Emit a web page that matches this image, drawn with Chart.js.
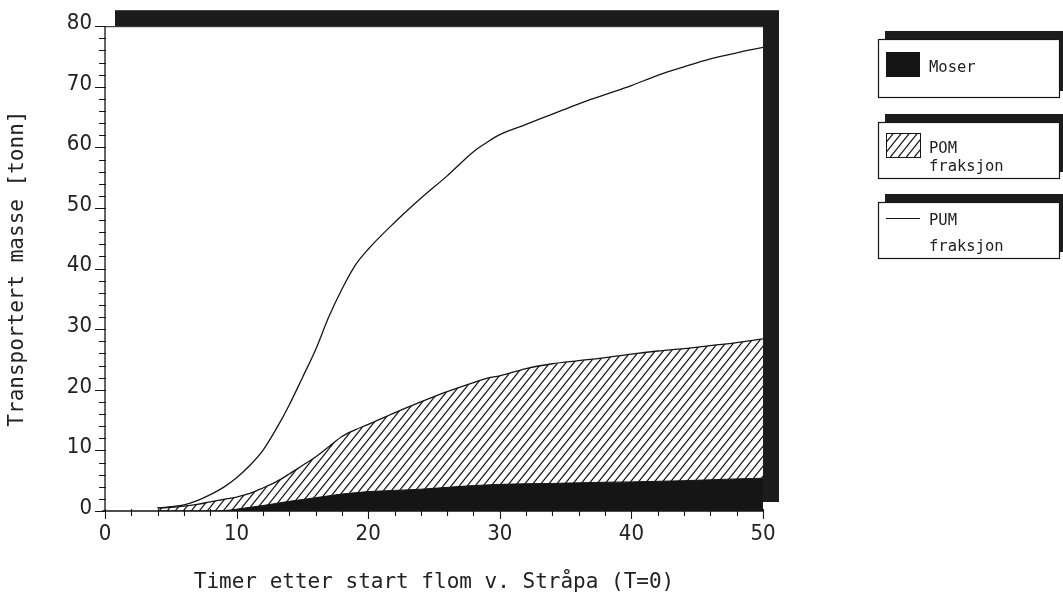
<!DOCTYPE html>
<html><head><meta charset="utf-8">
<script src="https://cdn.jsdelivr.net/npm/chart.js@4.4.1/dist/chart.umd.min.js"></script>
<style>html,body{margin:0;padding:0;background:#fff;}#wrap{width:1063px;height:595px;}</style>
</head><body><div id="wrap"><canvas id="c" width="1063" height="595"></canvas></div>
<script>
// ---- data ----
const hours = [4,5,6,7,8,9,10,11,12,13,14,15,16,17,18,19,20,22,24,26,28,29,30,32,34,36,38,40,42,44,46,48,50];
const moser = [0,0,0,0,0,0.05,0.3,0.6,0.9,1.25,1.6,1.9,2.2,2.5,2.8,3.0,3.2,3.4,3.6,3.9,4.2,4.3,4.4,4.5,4.55,4.65,4.75,4.8,4.9,5.0,5.15,5.3,5.4];
const pom   = [0.5,0.6,0.8,1.1,1.5,1.9,2.3,2.9,3.8,4.8,6.1,7.5,8.9,10.6,12.3,13.4,14.3,16.2,18.0,19.7,21.2,21.9,22.3,23.5,24.3,24.8,25.3,25.9,26.4,26.8,27.3,27.8,28.4];
const pum   = [0.5,0.7,1.0,1.7,2.7,3.9,5.5,7.5,10.0,13.5,17.5,22.0,26.6,32.0,36.6,40.5,43.2,47.6,51.6,55.3,59.3,60.8,62.1,63.8,65.5,67.2,68.7,70.2,71.9,73.3,74.6,75.6,76.5];
const xLabelTicks = [0,10,20,30,40,50];
const yLabelTicks = [0,10,20,30,40,50,60,70,80];
const xTitle = 'Timer etter start flom v. Stråpa (T=0)';
const yTitle = 'Transportert masse [tonn]';
const legendMoser = ['Moser'];
const legendPom = ['POM','fraksjon'];
const legendPum = ['PUM','fraksjon'];

// ---- styles ----
const INK = '#151515';
const SHADE = '#1c1c1c';
const MONO = "'DejaVu Sans Mono', 'Liberation Mono', monospace";
const NARROW = "'Liberation Sans Narrow', 'DejaVu Sans Condensed', 'Liberation Sans', sans-serif";

function makeHatch() {
  const w = 8, h = 10;
  const c = document.createElement('canvas');
  c.width = w; c.height = h;
  const g = c.getContext('2d');
  g.fillStyle = '#fff'; g.fillRect(0,0,w,h);
  g.strokeStyle = '#161616'; g.lineWidth = 1.2;
  for (const dx of [-w, 0, w]) {
    g.beginPath(); g.moveTo(dx - w, 2*h); g.lineTo(dx + 2*w, -h); g.stroke();
  }
  return g.createPattern(c, 'repeat');
}
const hatch = makeHatch();

const pts = arr => hours.map((h,i) => ({x:h, y:arr[i]}));

const framePlugin = {
  id: 'frame',
  beforeDraw(chart) {
    const {ctx, chartArea:a} = chart;
    ctx.save();
    ctx.fillStyle = '#fff';
    ctx.fillRect(0,0,chart.width,chart.height);
    ctx.fillStyle = SHADE;
    ctx.fillRect(a.left + 10, a.top - 16, a.right + 16 - (a.left + 10), a.bottom - 9 - (a.top - 16));
    ctx.fillStyle = '#fff';
    ctx.fillRect(a.left, a.top, a.right - a.left, a.bottom - a.top);
    ctx.strokeStyle = INK; ctx.lineWidth = 1;
    ctx.beginPath(); ctx.moveTo(a.left, a.top + 0.5); ctx.lineTo(a.right, a.top + 0.5); ctx.stroke();
    ctx.restore();
  },
  afterDatasetsDraw(chart) {
    const {ctx, chartArea:a, scales:{x, y}} = chart;
    ctx.save();
    ctx.strokeStyle = INK; ctx.lineWidth = 1.3;
    ctx.beginPath();
    ctx.moveTo(a.left, a.top); ctx.lineTo(a.left, a.bottom);
    ctx.moveTo(a.left - 3, a.bottom); ctx.lineTo(a.right, a.bottom);
    ctx.stroke();
    ctx.lineWidth = 1.1;
    ctx.beginPath();
    for (let v = y.min; v <= y.max; v += 2) {
      const p = Math.round(y.getPixelForValue(v)) + 0.5;
      const major = yLabelTicks.includes(v);
      ctx.moveTo(a.left - (major ? 10 : 6), p); ctx.lineTo(a.left + 1, p);
    }
    for (let v = x.min; v <= x.max; v += 2) {
      const p = Math.round(x.getPixelForValue(v)) + 0.5;
      const major = xLabelTicks.includes(v);
      ctx.moveTo(p, a.bottom - 2); ctx.lineTo(p, a.bottom + (major ? 8 : 5));
    }
    ctx.stroke();
    ctx.restore();
  },
  afterDraw(chart) {
    const {ctx} = chart;
    const boxes = [
      {top: 39, bottom: 97, kind: 'fill', lines: legendMoser, base: [71.5]},
      {top: 122, bottom: 178, kind: 'hatch', lines: legendPom, base: [152.5, 170.5]},
      {top: 202, bottom: 258, kind: 'line', lines: legendPum, base: [225, 251]}
    ];
    const L = 878, R = 1059;
    ctx.save();
    for (const b of boxes) {
      ctx.fillStyle = SHADE;
      ctx.fillRect(L + 7, b.top - 8, 1063 - (L + 7), b.bottom - 6 - (b.top - 8));
      ctx.fillStyle = '#fff';
      ctx.fillRect(L, b.top, R - L, b.bottom - b.top);
      ctx.strokeStyle = INK; ctx.lineWidth = 1.2;
      ctx.strokeRect(L + 0.5, b.top + 0.5, R - L, b.bottom - b.top);
      const sx = 886, sw = 34;
      if (b.kind === 'fill') {
        ctx.fillStyle = INK; ctx.fillRect(sx, b.top + 13, sw, 25);
      } else if (b.kind === 'hatch') {
        ctx.fillStyle = hatch; ctx.fillRect(sx, b.top + 11, sw, 24);
        ctx.strokeStyle = INK; ctx.lineWidth = 1; ctx.strokeRect(sx + 0.5, b.top + 11.5, sw, 24);
      } else {
        ctx.strokeStyle = INK; ctx.lineWidth = 1.2;
        ctx.beginPath(); ctx.moveTo(sx, b.top + 16.5); ctx.lineTo(sx + sw, b.top + 16.5); ctx.stroke();
      }
      ctx.fillStyle = '#222';
      ctx.font = '15.5px ' + MONO;
      ctx.textBaseline = 'alphabetic';
      ctx.textAlign = 'left';
      b.lines.forEach((t, i) => ctx.fillText(t, 929, b.base[i]));
    }
    ctx.restore();
  }
};

new Chart(document.getElementById('c'), {
  type: 'line',
  data: {
    datasets: [
      {label: 'PUM fraksjon', data: pts(pum), borderColor: INK, borderWidth: 1.3, fill: false, pointRadius: 0, cubicInterpolationMode: 'monotone', order: 1},
      {label: 'Moser', data: pts(moser), borderColor: INK, backgroundColor: INK, borderWidth: 1, fill: 'origin', pointRadius: 0, cubicInterpolationMode: 'monotone', order: 2},
      {label: 'POM fraksjon', data: pts(pom), borderColor: INK, backgroundColor: hatch, borderWidth: 1.3, fill: 'origin', pointRadius: 0, cubicInterpolationMode: 'monotone', order: 3}
    ]
  },
  options: {
    responsive: false,
    animation: false,
    events: [],
    layout: {padding: {left: 0, top: 24, right: 300, bottom: 0}},
    plugins: {legend: {display: false}, tooltip: {enabled: false}},
    scales: {
      x: {
        type: 'linear', min: 0, max: 50,
        grid: {display: false, drawTicks: false, tickLength: 0}, border: {display: false},
        ticks: {stepSize: 2, autoSkip: false, maxRotation: 0, padding: 10, color: '#222',
                font: {family: NARROW, size: 22},
                callback: v => xLabelTicks.includes(v) ? String(v) : ''},
        title: {display: true, text: xTitle, color: '#222', font: {family: MONO, size: 21}, padding: {top: 0, bottom: 0}},
        afterFit: s => { s.height = 84; }
      },
      y: {
        type: 'linear', min: 0, max: 80,
        grid: {display: false, drawTicks: false, tickLength: 0}, border: {display: false},
        ticks: {stepSize: 2, autoSkip: false, padding: 13, labelOffset: -3, color: '#222',
                font: {family: NARROW, size: 22},
                callback: v => yLabelTicks.includes(v) ? String(v) : ''},
        title: {display: true, text: yTitle, color: '#222', font: {family: MONO, size: 21}, padding: {top: 5, bottom: 0}},
        afterFit: s => { s.width = 105; }
      }
    }
  },
  plugins: [framePlugin]
});
</script>
</body></html>
